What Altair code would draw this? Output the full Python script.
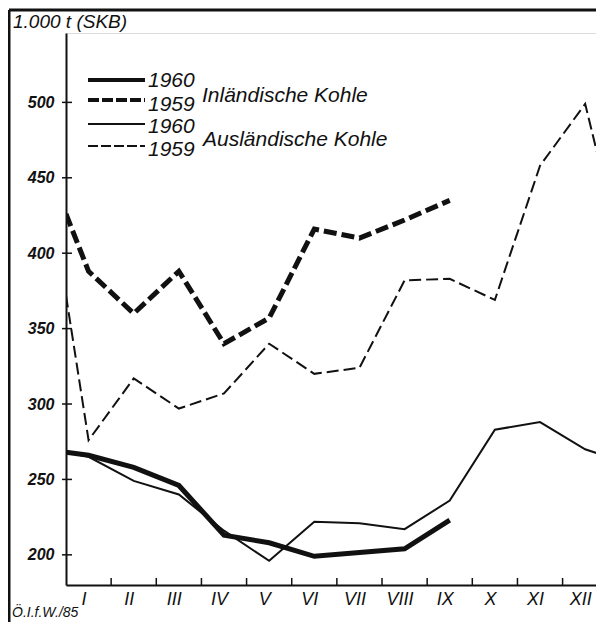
import altair as alt
import pandas as pd

# ---------------- data ----------------
months = ["I", "II", "III", "IV", "V", "VI", "VII", "VIII", "IX", "X", "XI", "XII"]
# 0.5 = left edge (axis), 12.4 = right edge of the picture
x_inl = [0.5, 1, 2, 3, 4, 5, 6, 7, 8, 9]
inl_1960 = [268, 266, 258, 246, 213, 208, 199, 201.5, 204, 223]
inl_1959 = [426, 388, 360, 388, 340, 357, 416, 410, 422, 435]
x_ausl = [0.5, 1, 2, 3, 4, 5, 6, 7, 8, 9, 10, 11, 12, 12.4]
ausl_1960 = [268, 265, 249, 240, 216, 196, 222, 221, 217, 236, 283, 288, 270, 266]
ausl_1959 = [372, 276, 317, 297, 307, 340, 320, 324, 382, 383, 369, 458, 499, 450]
y_ticks = [200, 250, 300, 350, 400, 450, 500]
x_bounds = [1.5, 2.5, 3.5, 4.5, 5.5, 6.5, 7.5, 8.5, 9.5, 10.5, 11.5]

FONT = "Liberation Sans"
W, H = 530, 552
INK = "#111111"

rows = []
for name, xs, vs in [("inl60", x_inl, inl_1960), ("inl59", x_inl, inl_1959),
                     ("aus60", x_ausl, ausl_1960), ("aus59", x_ausl, ausl_1959)]:
    for m, v in zip(xs, vs):
        rows.append({"s": name, "m": m, "v": v})
df = pd.DataFrame(rows)

label_expr = "[" + ",".join(f"'{m}'" for m in months) + "][datum.value - 1]"

xenc = alt.X("m:Q",
             scale=alt.Scale(domain=[0.5, 12.24], nice=False, zero=False),
             axis=alt.Axis(values=list(range(1, 13)), labelExpr=label_expr, ticks=False,
                           grid=False, title=None, domain=True, domainColor=INK, domainWidth=2,
                           labelFont=FONT, labelFontSize=18, labelFontStyle="italic",
                           labelColor=INK, labelPadding=5, labelOffset=-5, labelFlush=False))
yenc = alt.Y("v:Q",
             scale=alt.Scale(domain=[180, 546], nice=False, zero=False),
             axis=alt.Axis(values=y_ticks, ticks=False, grid=False, title=None, domain=True,
                           domainColor=INK, domainWidth=2, labelFont=FONT, labelFontSize=16,
                           labelFontStyle="italic", labelFontWeight="bold", labelColor=INK,
                           labelPadding=12))

base = alt.Chart(df)
styles = {
    "inl60": dict(strokeWidth=5),
    "inl59": dict(strokeWidth=5, strokeDash=[13, 5]),
    "aus60": dict(strokeWidth=2),
    "aus59": dict(strokeWidth=2, strokeDash=[12, 5]),
}
line_layers = [
    base.transform_filter(alt.datum.s == k)
        .mark_line(color=INK, clip=True, strokeJoin="miter", **st)
        .encode(x=xenc, y=yenc, order="m:Q")
    for k, st in styles.items()
]

# inward ticks
xt = alt.Chart(pd.DataFrame({"m": x_bounds})).mark_rule(color=INK, strokeWidth=1.5).encode(
    x=xenc, y=alt.value(H - 7), y2=alt.value(H))
yt = alt.Chart(pd.DataFrame({"v": y_ticks})).mark_rule(color=INK, strokeWidth=1.5).encode(
    y=yenc, x=alt.value(-4), x2=alt.value(6))

one = pd.DataFrame({"_": [0]})

def rule(x1, x2, y1, y2, **kw):
    return alt.Chart(one).mark_rule(color=INK, **kw).encode(
        x=alt.value(x1), x2=alt.value(x2), y=alt.value(y1), y2=alt.value(y2))

def text(t, x, y, size, **kw):
    return alt.Chart(one).mark_text(text=t, font=FONT, fontSize=size, fontStyle="italic",
                                    align="left", baseline="alphabetic", color=INK, **kw).encode(
        x=alt.value(x), y=alt.value(y))

deco = [
    # frame
    rule(-57, -57, -23, 600, strokeWidth=3),
    rule(-57, 545, -23, -23, strokeWidth=3),
    # legend
    rule(22, 79, 47, 47, strokeWidth=4),
    rule(22, 79, 67, 67, strokeWidth=4, strokeDash=[11, 3]),
    rule(22, 79, 91, 91, strokeWidth=2),
    rule(22, 79, 113, 113, strokeWidth=2, strokeDash=[10, 3]),
    text("1960", 82, 54, 21),
    text("1959", 82, 78, 21),
    text("1960", 82, 100, 21),
    text("1959", 82, 123, 21),
    text("Inländische Kohle", 136, 69, 21),
    text("Ausländische Kohle", 137, 113, 21),
    text("1.000 t (SKB)", -53, -5, 19),
    text("Ö.I.f.W./85", -54, 584, 14),
]

chart = alt.layer(*line_layers, xt, yt, *deco).properties(
    width=W, height=H,
    autosize=alt.AutoSizeParams(type="none"),
    padding={"left": 58, "top": 25, "right": 0, "bottom": 37},
).configure_view(stroke=None).configure(background="white")

chart.save("out.html", embed_options={"renderer": "svg", "actions": False})
